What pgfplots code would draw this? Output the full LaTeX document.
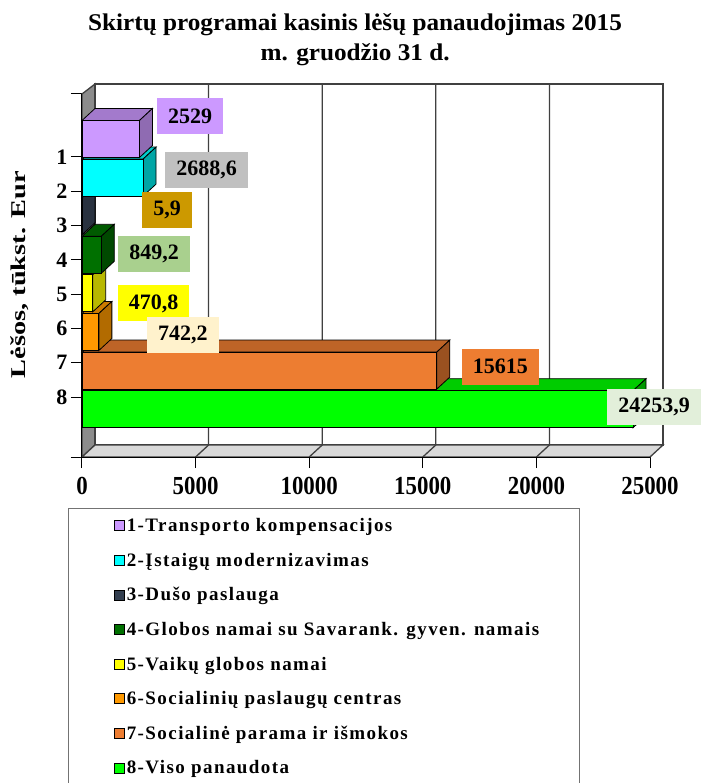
\documentclass[border=0pt]{standalone}
\usepackage{pgfplots}
\pgfplotsset{compat=1.18}
\usepackage{fontspec}
\setmainfont{Liberation Serif}
\newfontfamily\ylabfont[FakeStretch=1.35]{Liberation Serif}
\newfontfamily\tickfont[FakeStretch=0.88]{Liberation Serif}
\newfontfamily\titlefont[FakeStretch=1.05]{Liberation Serif}
\newfontfamily\legfont[LetterSpace=7.5]{Liberation Serif}
\definecolor{c1}{HTML}{CC99FF}
\definecolor{c2}{HTML}{00FFFF}
\definecolor{c3}{HTML}{333F50}
\definecolor{c4}{HTML}{007000}
\definecolor{c5}{HTML}{FFFF00}
\definecolor{c6}{HTML}{FF9900}
\definecolor{c7}{HTML}{ED7D31}
\definecolor{c8}{HTML}{00FF00}
\definecolor{l1}{HTML}{CC99FF}
\definecolor{l2}{HTML}{C0C0C0}
\definecolor{l3}{HTML}{CC9900}
\definecolor{l4}{HTML}{A9D08E}
\definecolor{l5}{HTML}{FFFF00}
\definecolor{l6}{HTML}{FFF2CC}
\definecolor{l7}{HTML}{ED7D31}
\definecolor{l8}{HTML}{E2EFDA}
\tikzset{lab/.style={fill=#1, text=black, font=\fontsize{22}{22}\selectfont\bfseries, inner xsep=11pt, inner ysep=0pt, minimum height=36pt, anchor=west}}
\pgfplotsset{
  sq/.style={legend image code/.code={\path (-7pt,0pt); \draw[##1,draw=black,line width=0.8pt] (0pt,-5pt) rectangle (10pt,5pt);}},
  face/.style={draw=black, line width=0.8pt, forget plot},
  wl/.style={draw=black!75, line width=1.3pt, forget plot},
  bb/.style={xbar, bar shift=0pt, bar width=37, draw=black, line width=0.8pt, fill=#1, sq},
}
\begin{document}
\begin{tikzpicture}
\begin{axis}[
  name=ax, scale only axis, width=581pt, height=373pt,
  xmin=0, xmax=25572, ymin=-457, ymax=-84,
  clip=false,
  axis line style={draw=none},
  scaled x ticks=false,
  xtick={0,5000,10000,15000,20000,25000},
  xticklabels={0,5000,10000,15000,20000,25000},
  ytick={-457,-397,-362.7,-328.4,-294.1,-259.9,-225.6,-191.3,-157,-94},
  yticklabels={,8,7,6,5,4,3,2,1,},
  xtick pos=bottom, ytick pos=left,
  tick align=outside,
  major tick length=11pt,
  tick style={black, line width=1pt},
  xticklabel style={font=\tickfont\fontsize{26}{26}\selectfont\bfseries, yshift=-6pt},
  yticklabel style={font=\fontsize{22}{22}\selectfont\bfseries},
  title={Skirtų programai kasinis lėšų panaudojimas 2015\\m. gruodžio 31 d.},
  title style={font=\titlefont\fontsize{24}{30}\selectfont\bfseries, align=center, at={(axis description cs:0.47,1)}, anchor=south, inner sep=0pt, yshift=12pt},
  ylabel={Lėšos, tūkst. Eur},
  ylabel style={font=\ylabfont\fontsize{21}{21}\selectfont\bfseries, at={(axis description cs:-0.107,0.489)}, anchor=center},
  reverse legend,
  legend cell align=left,
  legend style={at={(0,0)}, anchor=north west, xshift=-14pt, yshift=-51pt, draw=black!55, line width=1pt,
    font=\legfont\fontsize{19}{19}\selectfont\bfseries, inner xsep=38pt, inner ysep=0pt, row sep=0pt,
    nodes={minimum height=34.6pt, inner ysep=0pt, inner xsep=2.5pt}},
]
% walls
\addplot[wl, fill=black!45] coordinates {(0,-94) (572,-84) (572,-445) (0,-457)} --cycle;
\addplot[wl, fill=white] coordinates {(572,-84) (25572,-84) (25572,-445) (572,-445)} --cycle;
\addplot[wl, fill=black!15] coordinates {(0,-457) (25000,-457) (25572,-445) (572,-445)} --cycle;
\addplot[wl] coordinates {(5572,-84) (5572,-445) (5000,-457)};
\addplot[wl] coordinates {(10572,-84) (10572,-445) (10000,-457)};
\addplot[wl] coordinates {(15572,-84) (15572,-445) (15000,-457)};
\addplot[wl] coordinates {(20572,-84) (20572,-445) (20000,-457)};
\addplot[black, line width=1pt, forget plot] coordinates {(0,-94) (0,-457) (25000,-457)};
% bar 8
\addplot[face, fill=c8!80!black] coordinates {(0,-390.7) (572,-378.7) (24825.9,-378.7) (24253.9,-390.7)} --cycle;
\addplot[face, fill=c8!60!black] coordinates {(24253.9,-390.7) (24825.9,-378.7) (24825.9,-415.7) (24253.9,-427.7)} --cycle;
\addplot[bb=c8] coordinates {(24253.9,-409.2)};
% bar 7
\addplot[face, fill=c7!80!black] coordinates {(0,-352.1) (572,-340.1) (16187,-340.1) (15615,-352.1)} --cycle;
\addplot[face, fill=c7!65!black] coordinates {(15615,-352.1) (16187,-340.1) (16187,-377.1) (15615,-389.1)} --cycle;
\addplot[bb=c7] coordinates {(15615,-370.6)};
% bar 6
\addplot[face, fill=c6!80!black] coordinates {(0,-313.5) (572,-301.5) (1314.2,-301.5) (742.2,-313.5)} --cycle;
\addplot[face, fill=c6!70!black] coordinates {(742.2,-313.5) (1314.2,-301.5) (1314.2,-338.5) (742.2,-350.5)} --cycle;
\addplot[bb=c6] coordinates {(742.2,-332)};
% bar 5
\addplot[face, fill=c5!80!black] coordinates {(0,-274.9) (572,-262.9) (1042.8,-262.9) (470.8,-274.9)} --cycle;
\addplot[face, fill=c5!72!black] coordinates {(470.8,-274.9) (1042.8,-262.9) (1042.8,-299.9) (470.8,-311.9)} --cycle;
\addplot[bb=c5] coordinates {(470.8,-293.4)};
% bar 4
\addplot[face, fill=c4!80!black] coordinates {(0,-236.3) (572,-224.3) (1421.2,-224.3) (849.2,-236.3)} --cycle;
\addplot[face, fill=c4!65!black] coordinates {(849.2,-236.3) (1421.2,-224.3) (1421.2,-261.3) (849.2,-273.3)} --cycle;
\addplot[bb=c4] coordinates {(849.2,-254.8)};
% bar 3
\addplot[face, fill=c3!80!black] coordinates {(0,-197.7) (572,-185.7) (577.9,-185.7) (5.9,-197.7)} --cycle;
\addplot[face, fill=c3!80!black] coordinates {(5.9,-197.7) (577.9,-185.7) (577.9,-222.7) (5.9,-234.7)} --cycle;
\addplot[bb=c3] coordinates {(5.9,-216.2)};
% bar 2
\addplot[face, fill=c2!80!black] coordinates {(0,-159.1) (572,-147.1) (3260.6,-147.1) (2688.6,-159.1)} --cycle;
\addplot[face, fill=c2!65!black] coordinates {(2688.6,-159.1) (3260.6,-147.1) (3260.6,-184.1) (2688.6,-196.1)} --cycle;
\addplot[bb=c2] coordinates {(2688.6,-177.6)};
% bar 1
\addplot[face, fill=c1!80!black] coordinates {(0,-120.5) (572,-108.5) (3101,-108.5) (2529,-120.5)} --cycle;
\addplot[face, fill=c1!70!black] coordinates {(2529,-120.5) (3101,-108.5) (3101,-145.5) (2529,-157.5)} --cycle;
\addplot[bb=c1] coordinates {(2529,-139)};
% labels
\addplot[draw=none, forget plot, nodes near coords, point meta=explicit symbolic, nodes near coords style={lab=l1, xshift=17.5pt, yshift=23pt}] coordinates {(2529,-139) [2529]};
\addplot[draw=none, forget plot, nodes near coords, point meta=explicit symbolic, nodes near coords style={lab=l2, xshift=22pt, yshift=7.6pt}] coordinates {(2688.6,-177.6) [2688,6]};
\addplot[draw=none, forget plot, nodes near coords, point meta=explicit symbolic, nodes near coords style={lab=l3, xshift=60pt, yshift=6pt}] coordinates {(5.9,-216.2) [5,9]};
\addplot[draw=none, forget plot, nodes near coords, point meta=explicit symbolic, nodes near coords style={lab=l4, xshift=17pt, yshift=1pt}] coordinates {(849.2,-254.8) [849,2]};
\addplot[draw=none, forget plot, nodes near coords, point meta=explicit symbolic, nodes near coords style={lab=l5, xshift=25pt, yshift=-10pt}] coordinates {(470.8,-293.4) [470,8]};
\addplot[draw=none, forget plot, nodes near coords, point meta=explicit symbolic, nodes near coords style={lab=l6, xshift=48pt, yshift=-3pt}] coordinates {(742.2,-332) [742,2]};
\addplot[draw=none, forget plot, nodes near coords, point meta=explicit symbolic, nodes near coords style={lab=l7, xshift=25pt, yshift=4pt}] coordinates {(15615,-370.6) [15615]};
\addplot[draw=none, forget plot, nodes near coords, point meta=explicit symbolic, nodes near coords style={lab=l8, xshift=-26pt, yshift=2pt}] coordinates {(24253.9,-409.2) [24253,9]};
\legend{8-Viso panaudota, 7-Socialinė parama ir išmokos, 6-Socialinių paslaugų centras, 5-Vaikų globos namai, 4-Globos namai su Savarank. gyven. namais, 3-Dušo paslauga, 2-Įstaigų modernizavimas, 1-Transporto kompensacijos}
\end{axis}
\pgfresetboundingbox
\path[use as bounding box] ([xshift=-82pt,yshift=84pt]ax.north west) rectangle ([xshift=621pt,yshift=-699pt]ax.north west);
\end{tikzpicture}
\end{document}
